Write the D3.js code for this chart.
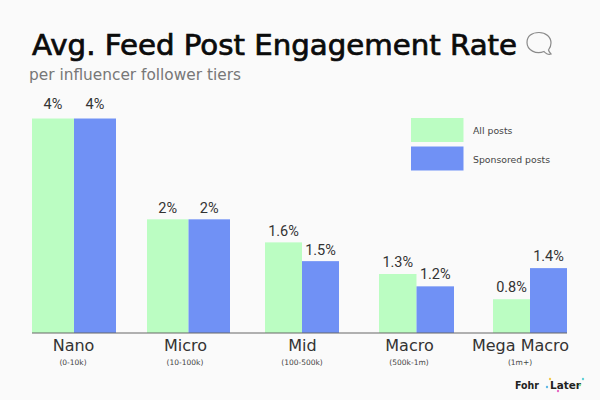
<!DOCTYPE html>
<html>
<head>
<meta charset="utf-8">
<script src="https://cdnjs.cloudflare.com/ajax/libs/d3/7.8.5/d3.min.js"></script>
<style>
  html, body { margin: 0; padding: 0; background: #fafafa; }
  text { font-family: "DejaVu Sans", sans-serif; }
</style>
</head>
<body>
<div id="chart"></div>
<script>
var svgWidth = 600;
var svgHeight = 400;

// tiers and what the picture prints under / over the bars
var tiers = ["Nano", "Micro", "Mid", "Macro", "Mega Macro"];
var ranges = ["(0-10k)", "(10-100k)", "(100-500k)", "(500k-1m)", "(1m+)"];
var seriesNames = ["All posts", "Sponsored posts"];

// bar heights as drawn: the original bars are not to scale with their printed labels
var allPosts = [4, 2.12, 1.69, 1.1, 0.63];
var sponsoredPosts = [4, 2.12, 1.34, 0.87, 1.21];
var allLabels = ["4%", "2%", "1.6%", "1.3%", "0.8%"];
var sponsoredLabels = ["4%", "2%", "1.5%", "1.2%", "1.4%"];

var green = "#bbfdc2";
var blue = "#7091f5";

var svg = d3.select("#chart")
    .append("svg")
    .attr("width", svgWidth)
    .attr("height", svgHeight)
    .style("display", "block");

svg.append("rect")
    .attr("width", svgWidth)
    .attr("height", svgHeight)
    .attr("fill", "#fafafa");

// groups are unevenly placed in the original, so ordinal scales instead of a band
var xStart = d3.scaleOrdinal(tiers, [32, 147, 265, 379, 493]);
var barWidth = d3.scaleOrdinal(tiers, [42, 41.5, 37, 37.5, 37]);
var xCenter = d3.scaleOrdinal(tiers, [73, 185, 302, 409, 520]);
var labelGap = d3.scaleOrdinal(tiers, [10, 6.6, 6.6, 7.5, 7.5]);
var yScale = d3.scaleLinear().domain([0, 4]).range([333, 118.5]);

//title
svg.append("text")
    .attr("x", 32)
    .attr("y", 55)
    .attr("textLength", 485)
    .attr("lengthAdjust", "spacingAndGlyphs")
    .attr("font-size", 27.5)
    .attr("fill", "#0b0b0b")
    .attr("stroke", "#0b0b0b")
    .attr("stroke-width", 0.7)
    .text("Avg. Feed Post Engagement Rate");

svg.append("text")
    .attr("x", 29)
    .attr("y", 79.5)
    .attr("textLength", 212)
    .attr("lengthAdjust", "spacingAndGlyphs")
    .attr("font-size", 15.5)
    .attr("fill", "#777")
    .text("per influencer follower tiers");

// speech bubble next to the title
svg.append("path")
    .attr("d", "M551 54 C548 55 545 53 544 51.500 C536 55 527 50 527 42.500 C527 36 532 32.500 539 32.500 C546 32.500 551 37 551 43 C551 46 550 48 548.500 50 C549 52 550 53 551 54 Z")
    .attr("fill", "none")
    .attr("stroke", "#8a8a8a")
    .attr("stroke-width", 1.2);

// bars
var rows = tiers.map(function(tier, i) {
    return { tier: tier, all: allPosts[i], sponsored: sponsoredPosts[i], allLabel: allLabels[i], sponsoredLabel: sponsoredLabels[i] };
});

var groups = svg.selectAll(".tier")
    .data(rows)
    .enter()
    .append("g")
    .attr("class", "tier")
    .attr("transform", d => `translate(${xStart(d.tier)},0)`);

groups.append("rect")
    .attr("x", 0)
    .attr("y", d => yScale(d.all))
    .attr("width", d => barWidth(d.tier))
    .attr("height", d => yScale(0) - yScale(d.all))
    .attr("fill", green);

groups.append("rect")
    .attr("x", d => barWidth(d.tier))
    .attr("y", d => yScale(d.sponsored))
    .attr("width", d => barWidth(d.tier))
    .attr("height", d => yScale(0) - yScale(d.sponsored))
    .attr("fill", blue);

groups.append("text")
    .attr("x", d => barWidth(d.tier) / 2)
    .attr("y", d => yScale(d.all) - labelGap(d.tier))
    .attr("text-anchor", "middle")
    .attr("font-size", 14.5)
    .attr("fill", "#333")
    .style("font-family", "Roboto")
    .text(d => d.allLabel);

groups.append("text")
    .attr("x", d => barWidth(d.tier) * 1.5)
    .attr("y", d => yScale(d.sponsored) - labelGap(d.tier))
    .attr("text-anchor", "middle")
    .attr("font-size", 14.5)
    .attr("fill", "#333")
    .style("font-family", "Roboto")
    .text(d => d.sponsoredLabel);

//axis, tier names come from the axis ticks
var xAxis = d3.axisBottom(xCenter).tickSize(0).tickPadding(7);

var axisGroup = svg.append("g")
    .attr("transform", `translate(0,${yScale(0)})`)
    .call(xAxis);

axisGroup.select(".domain").remove();

axisGroup.selectAll("text")
    .attr("font-size", 16)
    .attr("fill", "#333")
    .style("font-family", "DejaVu Sans");

svg.append("line")
    .attr("x1", xStart(tiers[0]))
    .attr("x2", 567)
    .attr("y1", yScale(0))
    .attr("y2", yScale(0))
    .attr("stroke", "#666")
    .attr("stroke-width", 1);

svg.selectAll(".range")
    .data(tiers)
    .enter()
    .append("text")
    .attr("class", "range")
    .attr("x", d => xCenter(d))
    .attr("y", 365)
    .attr("text-anchor", "middle")
    .attr("font-size", 7.5)
    .attr("fill", "#444")
    .text((d, i) => ranges[i]);

// legend
var legendY = d3.scalePoint().domain(seriesNames).range([118, 146.5]);
var legendColor = d3.scaleOrdinal(seriesNames, [green, blue]);

svg.selectAll(".legendBox")
    .data(seriesNames)
    .enter()
    .append("rect")
    .attr("class", "legendBox")
    .attr("x", 411)
    .attr("y", d => legendY(d))
    .attr("width", 52.500)
    .attr("height", 24)
    .attr("fill", d => legendColor(d));

svg.selectAll(".legendText")
    .data(seriesNames)
    .enter()
    .append("text")
    .attr("class", "legendText")
    .attr("x", 473)
    .attr("y", d => legendY(d) + 16)
    .attr("font-size", 9.3)
    .attr("fill", "#444")
    .text(d => d);

// logos
svg.append("text")
    .attr("x", 515)
    .attr("y", 389)
    .attr("textLength", 24)
    .attr("lengthAdjust", "spacingAndGlyphs")
    .attr("font-size", 11)
    .attr("font-weight", 700)
    .attr("fill", "#222")
    .text("Fohr");

svg.append("text")
    .attr("x", 550)
    .attr("y", 389)
    .attr("textLength", 31)
    .attr("lengthAdjust", "spacingAndGlyphs")
    .attr("font-size", 11)
    .attr("font-weight", 700)
    .attr("fill", "#222")
    .text("Later");

// the little coloured specks around the Later logo
var logoSpecks = [
    { cx: 550, cy: 379, fill: "#f2c94c" },
    { cx: 547, cy: 387, fill: "#5fb8e6" },
    { cx: 558, cy: 391, fill: "#e86ac4" },
    { cx: 583, cy: 379, fill: "#5fd0d8" },
    { cx: 580, cy: 385, fill: "#7be0a0" }
];

svg.selectAll(".speck")
    .data(logoSpecks)
    .enter()
    .append("circle")
    .attr("class", "speck")
    .attr("cx", d => d.cx)
    .attr("cy", d => d.cy)
    .attr("r", 1.2)
    .attr("fill", d => d.fill);
</script>
</body>
</html>
